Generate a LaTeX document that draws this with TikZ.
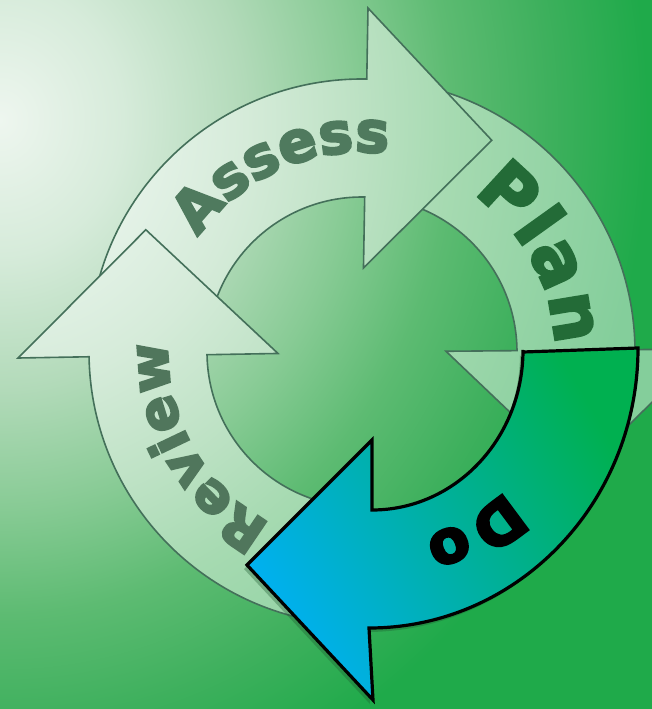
\documentclass[tikz,border=0pt]{standalone}
\usepackage{fontspec}
\setmainfont{DejaVu Sans}
\newfontfamily\heavyfont{DejaVu Sans}[BoldFeatures={FakeBold=4}]
\usetikzlibrary{calc,decorations.text}
\definecolor{bg0}{HTML}{EEF6EF}
\definecolor{bg1}{HTML}{D6EBDA}
\definecolor{bg2}{HTML}{B2DAB9}
\definecolor{bg3}{HTML}{88CB95}
\definecolor{bg4}{HTML}{5DBB72}
\definecolor{bg5}{HTML}{3EB05D}
\definecolor{bg6}{HTML}{1FAA4A}
\definecolor{rg0}{HTML}{F6FAF6}
\definecolor{rg1}{HTML}{E8F4EB}
\definecolor{rg2}{HTML}{D5EBD9}
\definecolor{rg3}{HTML}{BEE2C5}
\definecolor{rg4}{HTML}{A6DAB1}
\definecolor{rg5}{HTML}{95D4A6}
\definecolor{rg6}{HTML}{84CE9B}
\definecolor{ringedge}{HTML}{44705A}
\definecolor{asscol}{HTML}{4F7A5E}
\definecolor{revcol}{HTML}{50765C}
\definecolor{plancol}{HTML}{236B37}
\definecolor{dogreen}{HTML}{00B050}
\definecolor{doblue}{HTML}{00B0F0}
\definecolor{doshadow}{HTML}{1E5A30}
\pgfdeclareradialshading{bgshade}{\pgfpoint{0bp}{0bp}}{color(0bp)=(bg0); color(3.75bp)=(bg1); color(7.5bp)=(bg2); color(10.75bp)=(bg3); color(13.75bp)=(bg4); color(16.75bp)=(bg5); color(19.75bp)=(bg6); color(50bp)=(bg6)}
\pgfdeclareradialshading{ringshade}{\pgfpoint{0bp}{0bp}}{color(0bp)=(rg0); color(3.75bp)=(rg1); color(7.5bp)=(rg2); color(10.75bp)=(rg3); color(13.75bp)=(rg4); color(16.75bp)=(rg5); color(19.75bp)=(rg6); color(50bp)=(rg6)}
\tikzset{
  ringp/.style 2 args={insert path={($(C)+(#1:273)$) arc[start angle=#1, end angle=#2, radius=273]
    -- ($(C)+(#2:344)$) -- ($(C)+(#2:214)+(#2+90:126)$) -- ($(C)+(#2:84)$)
    -- ($(C)+(#2:155)$) arc[start angle=#2, end angle=#1, radius=155] -- cycle}},
  dop/.style={insert path={(523,352) -- (638,348) arc[start angle=0, end angle=90, x radius=269, y radius=280]
    -- (373,700) -- (247,565) -- (372,440) -- (372,510)
    arc[start angle=90, end angle=0, x radius=151, y radius=160] -- cycle}},
  ringline/.style={draw=ringedge, line width=1.6pt, line join=miter},
  doline/.style={draw=black, line width=3.2pt, line join=miter},
  wordpath/.style={decorate, decoration={text along path, text align={fit to path}, text={#1}}}
}
\newcommand{\ringarrow}[2]{%
  \begin{scope}
    \clip[ringp={#1}{#2}];
    \shade[shading=ringshade] (0,120) ellipse [x radius=820, y radius=900];
  \end{scope}
  \path[ringline, ringp={#1}{#2}];
}
\begin{document}
\begin{tikzpicture}[x=1pt,y=-1pt]
\useasboundingbox (0,0) rectangle (652,709);
\coordinate (C) at (362,352);
\coordinate (D) at (370,350);
\begin{scope}
  \clip (0,0) rectangle (652,709);
  \fill[bg6] (0,0) rectangle (652,709);
  \shade[shading=bgshade] (0,120) ellipse [x radius=820, y radius=900];
  % arrows of the cycle
  \ringarrow{276}{359.5}
  \ringarrow{185}{271}
  \ringarrow{95}{179}
  % Do arrow with soft shadow
  \path[fill=doshadow, fill opacity=0.35, shift={(-3,4)}, dop];
  \path[doline, top color=dogreen, bottom color=doblue, shading angle=-60, dop];
\end{scope}
% words
\path[wordpath={|\fontsize{57}{66}\heavyfont\bfseries\color{asscol}|Assess}]
  ($(C)+(215:200)$) arc[start angle=215, end angle=277, radius=200];
\path[wordpath={|\fontsize{70}{80}\heavyfont\bfseries\color{plancol}|Plan}]
  ($(C)+(305:193)$) arc[start angle=305, end angle=358, radius=193];
\path[wordpath={|\fontsize{54}{62}\heavyfont\bfseries\color{revcol}|Review}]
  ($(C)+(118:194)$) arc[start angle=118, end angle=183, radius=194];
\path[wordpath={|\fontsize{60}{70}\heavyfont\bfseries\color{black}|Do}]
  ($(D)+(46:195)$) arc[start angle=46, end angle=74, radius=195];
\end{tikzpicture}
\end{document}
